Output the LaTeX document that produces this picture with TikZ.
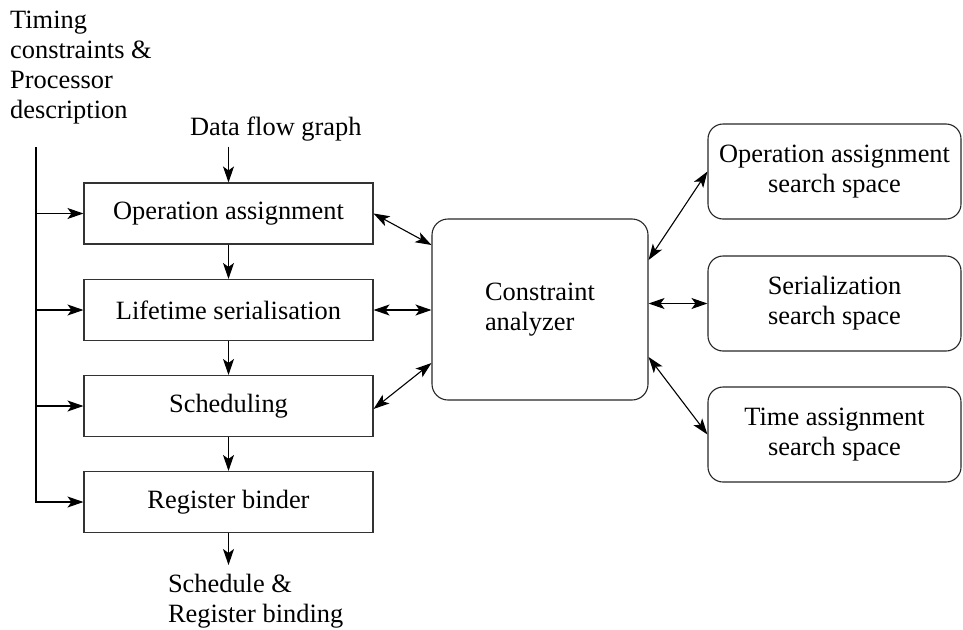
\documentclass[tikz,border=0pt]{standalone}
\usepackage{fontspec}
\setmainfont{Liberation Serif}
\usetikzlibrary{arrows.meta,calc}
\begin{document}
\begin{tikzpicture}[x=1pt,y=-1pt,
  every node/.style={font=\fontsize{26.4}{30}\selectfont},
  stage/.style={draw=black!80, line width=1.1pt, minimum width=289pt, minimum height=61pt, inner sep=0pt},
  space/.style={draw=black!85, line width=1.1pt, rounded corners=15pt, minimum width=253pt, minimum height=95pt, align=center, inner sep=0pt},
  label/.style={inner sep=0pt, align=left},
  tip/.style={Stealth[length=16pt,width=11pt,inset=4pt]},
  arr/.style={line width=1.1pt, -{Stealth[length=16pt,width=11pt,inset=4pt]}},
  biarr/.style={line width=1.1pt, {Stealth[length=16pt,width=11pt,inset=4pt]}-{Stealth[length=16pt,width=11pt,inset=4pt]}},
]
\useasboundingbox (0,0) rectangle (963,629);

% inputs and output
\node[label, anchor=north west] (tc) at (10,10.5) {Timing\\constraints \&\\Processor\\description};
\node[label, anchor=base west, outer sep=6pt] (dfg) at (184,135) {Data flow graph};
\node[label, anchor=north west, outer sep=9pt] (out) at (159,565) {Schedule \&\\Register binding};

% synthesis stages
\node[stage] (op)    at (228.5,213.5) {Operation assignment};
\node[stage] (life)  at (228.5,310)   {Lifetime serialisation};
\node[stage] (sched) at (228.5,406)   {Scheduling};
\node[stage] (reg)   at (228.5,502)   {Register binder};

% analyzer and search spaces
\node[draw=black!85, line width=1.1pt, rounded corners=16pt, minimum width=216pt, minimum height=181pt, align=left, inner sep=0pt] (ca) at (540,309.5) {Constraint\\analyzer};
\node[space] (sp1) at (834.5,171.5) {Operation assignment\\search space};
\node[space] (sp2) at (834.5,303.5) {Serialization\\search space};
\node[space] (sp3) at (834.5,434.5) {Time assignment\\search space};

% main flow
\draw[arr] (op.north |- dfg.south) -- (op.north);
\draw[arr] (op) -- (life);
\draw[arr] (life) -- (sched);
\draw[arr] (sched) -- (reg);
\draw[arr] (reg.south) -- (reg.south |- out.north);

% constraints bus
\coordinate (bus) at (36,147);
\draw[arr] (bus) |- (reg.west);
\draw[arr] (bus |- op.west) -- (op.west);
\draw[arr] (bus |- life.west) -- (life.west);
\draw[arr] (bus |- sched.west) -- (sched.west);

% analyzer links
\draw[biarr] (op.east) -- ([yshift=64.5pt]ca.west);
\draw[biarr] (life.east) -- (ca.west |- life.east);
\draw[biarr] ([yshift=-3pt]sched.east) -- ([yshift=-53.5pt]ca.west);
\draw[biarr] ([yshift=49.5pt]ca.east) -- (sp1.west);
\draw[biarr] (ca.east |- sp2.west) -- (sp2.west);
\draw[biarr] ([yshift=-47.5pt]ca.east) -- (sp3.west);
\end{tikzpicture}
\end{document}
